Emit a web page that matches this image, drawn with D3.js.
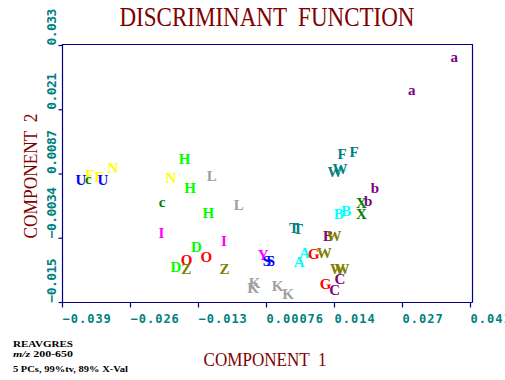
<!DOCTYPE html>
<html><head><meta charset="utf-8">
<script src="https://cdn.jsdelivr.net/npm/d3@7"></script>
<style>body{margin:0;background:#fff}</style>
</head><body>
<script>
// ---- data ----
const title = "DISCRIMINANT  FUNCTION";
const xTitle = "COMPONENT  1";
const yTitle = "COMPONENT  2";
const notes = ["REAVGRES", "m/z 200-650", "5 PCs, 99%tv, 89% X-Val"];

const xTickValues = [-0.03914, -0.02584, -0.01254, 0.00076, 0.01406, 0.02736, 0.04066];
const xTickLabels = ["\u22120.039", "\u22120.026", "\u22120.013", "0.00076", "0.014", "0.027", "0.041"];
const yTickValues = [-0.0155, -0.0034, 0.0087, 0.0208, 0.0329];
const yTickLabels = ["\u22120.015", "\u22120.0034", "0.0087", "0.021", "0.033"];

const pointLabels = ["F","F","U","c","U","N","N","c","H","H","H","L","L","I","I","D","O","O","D","Z","Z",
  "Y","S","S","T","T","A","A","G","B","W","W","W","W","G","C","C","K","K","K","K",
  "F","F","W","W","b","b","X","X","B","B","a","a"];
const pointGroup = ["yellow","yellow","blue","dkgreen","blue","yellow","yellow","dkgreen","lime","lime","lime","gray","gray","magenta","magenta","lime","red","red","lime","olive","olive",
  "magenta","blue","blue","teal","teal","cyan","cyan","red","purple","olive","olive","olive","olive","red","purple","purple","gray","gray","gray","gray",
  "teal","teal","teal","teal","purple","purple","dkgreen","dkgreen","cyan","cyan","purple","purple"];
const pointX = [-0.03376,-0.03190,-0.03542,-0.03400,-0.03112,-0.02916,-0.01782,-0.01954,-0.01514,-0.01410,-0.01052,-0.00984,-0.00456,-0.01968,-0.00749,-0.01287,-0.01479,-0.01093,-0.01688,-0.01483,-0.00735,
  0.00023,0.00096,0.00174,0.00624,0.00702,0.00726,0.00833,0.01011,0.01289,0.01406,0.01215,0.01475,0.01563,0.01240,0.01524,0.01420,-0.00149,-0.00178,0.00305,0.00507,
  0.01563,0.01801,0.01426,0.01524,0.02208,0.02075,0.01940,0.01940,0.01498,0.01647,0.03757,0.02928];
const pointY = [0.00847,0.00804,0.00748,0.00770,0.00748,0.00986,0.00798,0.00331,0.01148,0.00597,0.00135,0.00826,0.00286,-0.00241,-0.00405,-0.00509,-0.00759,-0.00689,-0.00891,-0.00932,-0.00929,
  -0.00659,-0.00765,-0.00765,-0.00157,-0.00176,-0.00784,-0.00627,-0.00650,-0.00302,-0.00302,-0.00624,-0.00923,-0.00923,-0.01207,-0.01111,-0.01315,-0.01192,-0.01286,-0.01245,-0.01386,
  0.01250,0.01280,0.00898,0.00954,0.00597,0.00356,0.00314,0.00111,0.00120,0.00173,0.03063,0.02451];

const groupNames = ["yellow","blue","dkgreen","lime","gray","magenta","red","olive","teal","cyan","purple"];
const groupColors = ["#FFFF00","#0000FF","#008000","#00FF00","#A0A0A0","#FF00FF","#FF0000","#808000","#008080","#00FFFF","#800080"];

// ---- drawing ----
const W = 505, H = 380;
const mLeft = 62, mRight = 470, frameRight = 472, mTop = 44, mBottom = 302;
const axisColor = "#000080", tickColor = "#008080", titleColor = "#800000";

const svg = d3.select("body").append("svg").attr("width", W).attr("height", H);
svg.append("rect").attr("width", W).attr("height", H).attr("fill", "#fff");

const x = d3.scaleLinear().domain([xTickValues[0], xTickValues[xTickValues.length-1]]).range([mLeft, mRight]);
const y = d3.scaleLinear().domain([yTickValues[0], yTickValues[yTickValues.length-1]]).range([mBottom, mTop + 1]);
const color = d3.scaleOrdinal().domain(groupNames).range(groupColors);

// frame
svg.append("path")
  .attr("d", `M${mLeft+0.5},${mTop+0.5}H${frameRight+0.5}V${mBottom+0.5}`)
  .attr("fill", "none").attr("stroke", axisColor).attr("stroke-width", 1.2);

// x axis
const xAxis = d3.axisBottom(x).tickValues(xTickValues).tickFormat((d, i) => xTickLabels[i]).tickSize(5).tickSizeOuter(0);
const gx = svg.append("g").attr("transform", `translate(0,${mBottom+0.5})`).call(xAxis);
gx.select(".domain").attr("stroke", axisColor).attr("stroke-width", 1.2).attr("d", `M${mLeft},0H${frameRight+0.5}`);
gx.selectAll(".tick line").attr("stroke", axisColor).attr("stroke-width", 1.2);
gx.selectAll(".tick text")
  .attr("text-anchor", "start").attr("y", 20.5).attr("dy", null)
  .attr("fill", tickColor)
  .style("font-family", "'DejaVu Sans Mono', monospace").style("font-weight", "bold")
  .style("font-size", "12px").style("letter-spacing", "1px");

// y axis
const yAxis = d3.axisLeft(y).tickValues(yTickValues).tickFormat((d, i) => yTickLabels[i]).tickSize(4).tickSizeOuter(0);
const gy = svg.append("g").attr("transform", `translate(${mLeft+0.5},0)`).call(yAxis);
gy.select(".domain").attr("stroke", axisColor).attr("stroke-width", 1.2).attr("d", `M0,${mTop}V${mBottom+1}`);
gy.selectAll(".tick line").attr("stroke", axisColor).attr("stroke-width", 1.2);
gy.selectAll(".tick text")
  .attr("x", null).attr("dy", null)
  .attr("transform", "translate(-7,0) rotate(-90)")
  .attr("text-anchor", "start")
  .attr("fill", tickColor)
  .style("font-family", "'DejaVu Sans Mono', monospace").style("font-weight", "bold")
  .style("font-size", "13px").style("letter-spacing", "-0.6px");

// titles
svg.append("text").attr("x", (mLeft + frameRight) / 2).attr("y", 26)
  .attr("text-anchor", "middle").attr("fill", titleColor)
  .attr("textLength", 295).attr("lengthAdjust", "spacingAndGlyphs")
  .style("white-space", "pre")
  .style("font-family", "'Liberation Serif', serif").style("font-size", "28px")
  .text(title);
svg.append("text").attr("x", 265).attr("y", 366)
  .attr("text-anchor", "middle").attr("fill", titleColor)
  .attr("textLength", 123).attr("lengthAdjust", "spacingAndGlyphs")
  .style("white-space", "pre")
  .style("font-family", "'Liberation Serif', serif").style("font-size", "19px")
  .text(xTitle);
svg.append("text").attr("transform", `translate(37,${(mTop+mBottom)/2+3}) rotate(-90)`)
  .attr("text-anchor", "middle").attr("fill", titleColor)
  .attr("textLength", 125).attr("lengthAdjust", "spacingAndGlyphs")
  .style("white-space", "pre")
  .style("font-family", "'Liberation Serif', serif").style("font-size", "19px")
  .text(yTitle);

// notes
const noteY = [347, 357, 372];
const noteLen = [60, 60, 115];
notes.forEach((t, i) => {
  const tx = svg.append("text").attr("x", 13).attr("y", noteY[i])
    .attr("textLength", noteLen[i]).attr("lengthAdjust", "spacingAndGlyphs")
    .attr("fill", "#000")
    .style("font-family", "'Liberation Serif', serif").style("font-weight", "bold").style("font-size", "9px");
  if (t.startsWith("m/z")) {
    tx.append("tspan").style("font-style", "italic").text("m/z");
    tx.append("tspan").text(t.slice(3));
  } else tx.text(t);
});

// points
const idx = d3.range(pointLabels.length);
svg.append("g").selectAll("text").data(idx).join("text")
  .attr("x", i => x(pointX[i]))
  .attr("y", i => y(pointY[i]))
  .attr("dy", "0.35em")
  .attr("text-anchor", "middle")
  .attr("fill", i => color(pointGroup[i]))
  .style("font-family", "'Liberation Serif', serif").style("font-weight", "bold").style("font-size", "15px")
  .text(i => pointLabels[i]);
</script>
</body></html>
